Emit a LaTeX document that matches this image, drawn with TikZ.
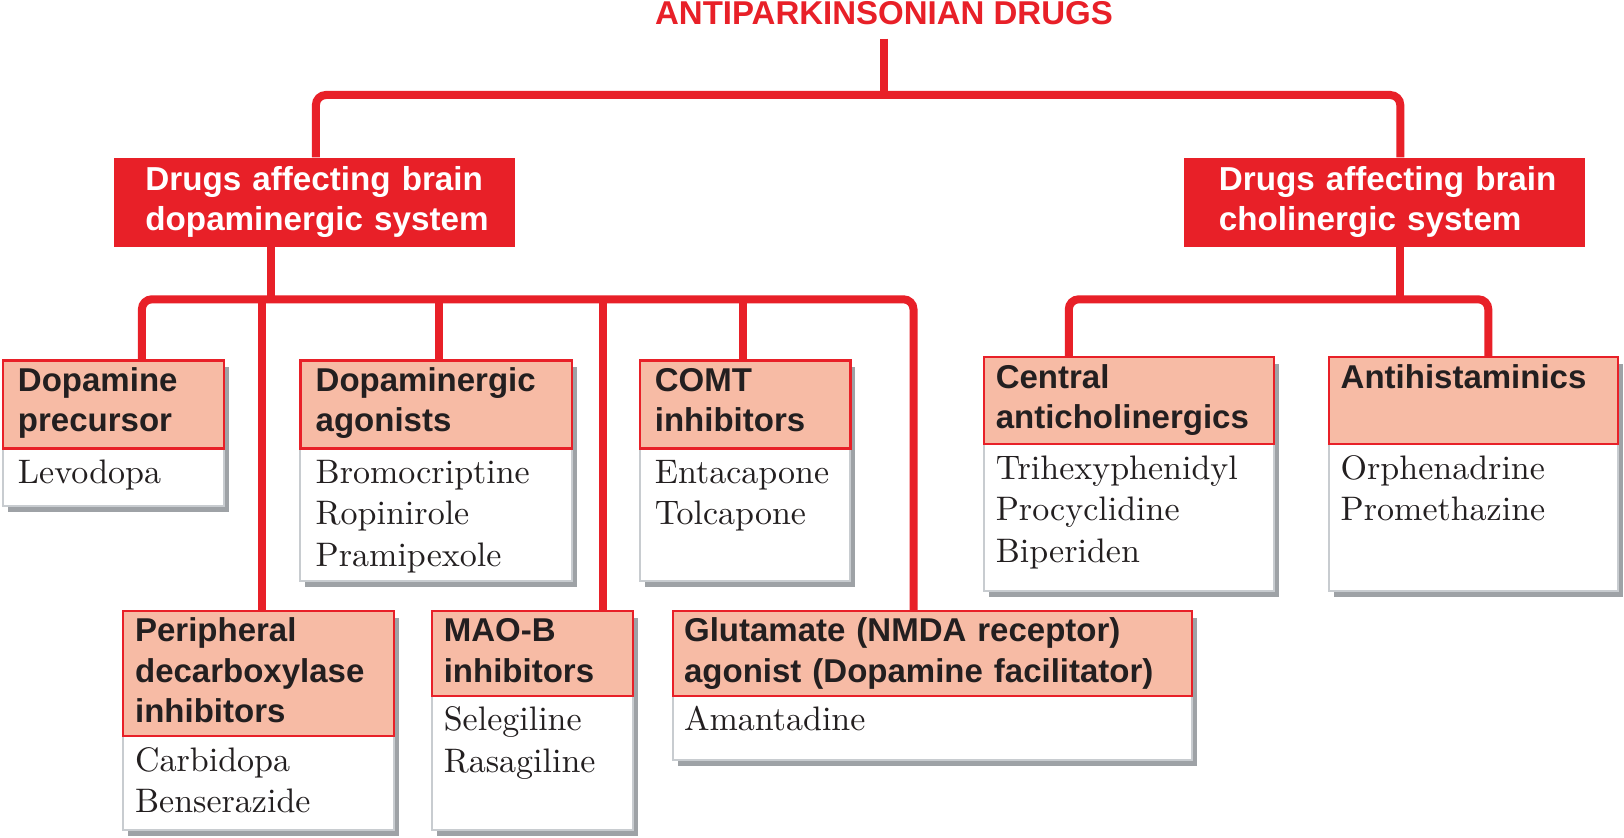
\documentclass[tikz,border=0pt]{standalone}
\usepackage{fontspec}
\newfontfamily\hsans{Liberation Sans}
\newfontfamily\bserif{lmroman10-regular.otf}
\definecolor{dred}{RGB}{232,32,40}
\definecolor{hfill}{RGB}{247,187,165}
\definecolor{shadowc}{RGB}{158,162,166}
\definecolor{bline}{RGB}{200,204,208}
\definecolor{htextc}{RGB}{35,31,32}
\tikzset{
 conn/.style={draw=dred, line width=4pt},
 hbox/.style={draw=dred, fill=hfill, line width=1.1pt, inner sep=0pt, anchor=north west},
 bbox/.style={draw=bline, fill=white, line width=1pt, inner sep=0pt, anchor=north west},
 rbox/.style={fill=dred, inner sep=0pt, anchor=north west},
 htext/.style={font=\hsans\bfseries\fontsize{16.5}{20.2}\selectfont, text=htextc, align=left, inner sep=0pt, anchor=base west},
 btext/.style={font=\bserif\fontsize{17}{20.7}\selectfont, text=htextc, align=left, inner sep=0pt, anchor=base west},
 wtext/.style={font=\hsans\bfseries\fontsize{16.6}{19.8}\selectfont, text=white, align=left, inner sep=0pt, anchor=base west, text width=190pt},
 ttext/.style={font=\hsans\bfseries\fontsize{16.5}{20}\selectfont, text=dred, inner sep=0pt, anchor=base},
}
% name, x1, x2, ytop, ydiv, ybot, header, body, inset
\newcommand\drugbox[9]{%
 \fill[shadowc] (#2+6,#4+8) rectangle (#3+6,#6+7);
 \node[bbox, minimum width={(#3-(#2))*0.5pt}, minimum height={(#6-(#5))*0.5pt}] (#1-b) at (#2,#5) {};
 \node[hbox, minimum width={(#3-(#2))*0.5pt}, minimum height={(#5-(#4))*0.5pt}] (#1-h) at (#2,#4) {};
 \node[htext, text width={(#3-(#2)-(#9)-2)*0.5pt}] (#1-ht) at (#2+#9,#4+32) {#7};
 \node[btext, text width={(#3-(#2)-(#9)-2)*0.5pt}] (#1-bt) at (#2+#9,#5+36) {#8};
}
\begin{document}
\begin{tikzpicture}[x=0.5pt,y=-0.5pt]
\useasboundingbox (0,0) rectangle (1624,838);
\fill[white] (0,0) rectangle (1624,838);

% title
\node[ttext] (title) at (884,25) {ANTIPARKINSONIAN DRUGS};

% top red boxes
\node[rbox, minimum width=200.4pt, minimum height=44.55pt] (dop) at (113.9,157.4) {};
\node[rbox, minimum width=200.4pt, minimum height=44.55pt] (chol) at (1183.8,157.4) {};
\node[wtext] (dop-t) at (145,190.5) {Drugs affecting brain\\dopaminergic system};
\node[wtext] (chol-t) at (1218.5,190.5) {Drugs affecting brain\\cholinergic system};

% attachment points
\coordinate (bus) at (884,95);
\coordinate (dopin) at (315.9,157.4);
\coordinate (cholin) at (1400.3,157.4);
\coordinate (lbus) at (271.4,299.3);
\coordinate (rbus) at (1400.3,299.3);
\coordinate (dpin) at (141.9,359.4);
\coordinate (pdin) at (262,610);
\coordinate (dain) at (439.1,359.4);
\coordinate (maoin) at (602.8,610);
\coordinate (comtin) at (742.6,359.4);
\coordinate (gluin) at (913.5,610);
\coordinate (cain) at (1068.8,356.3);
\coordinate (ahin) at (1488.3,356.3);

% connectors
\draw[conn] ([yshift=-6.5pt]title.south) -- (bus);
\draw[conn, rounded corners=5pt] (dopin) |- (bus) -| (cholin);
\draw[conn] (dop.south -| lbus) -- (lbus);
\draw[conn, rounded corners=5pt] (dpin) |- (lbus) -| (gluin);
\draw[conn] (pdin |- lbus) -- (pdin);
\draw[conn] (dain |- lbus) -- (dain);
\draw[conn] (maoin |- lbus) -- (maoin);
\draw[conn] (comtin |- lbus) -- (comtin);
\draw[conn] (chol.south -| rbus) -- (rbus);
\draw[conn, rounded corners=5pt] (cain) |- (rbus) -| (ahin);

% drug boxes
\drugbox{dp}{2.1}{222.7}{359.4}{447.4}{505.4}{Dopamine\\precursor}{Levodopa}{15.5}
\drugbox{da}{299.3}{570.7}{359.4}{447.4}{580}{Dopaminergic\\agonists}{Bromocriptine\\Ropinirole\\Pramipexole}{16}
\drugbox{comt}{639}{849.3}{359.4}{447.4}{580}{COMT\\inhibitors}{Entacapone\\Tolcapone}{15.5}
\drugbox{ca}{982.9}{1272.9}{356.3}{443.3}{590.3}{Central\\anticholinergics}{Trihexyphenidyl\\Procyclidine\\Biperiden}{12.5}
\drugbox{ah}{1327.8}{1616.7}{356.3}{443.3}{590.3}{Antihistaminics}{Orphenadrine\\Promethazine}{12.5}
\drugbox{pd}{122.2}{392.5}{610}{735.3}{828.6}{Peripheral\\decarboxylase\\inhibitors}{Carbidopa\\Benserazide}{12.5}
\drugbox{mao}{430.9}{631.8}{610}{695}{828.6}{MAO-B\\inhibitors}{Selegiline\\Rasagiline}{12.5}
\drugbox{glu}{672.2}{1191}{610}{695}{759.2}{Glutamate (NMDA receptor)\\agonist (Dopamine facilitator)}{Amantadine}{11.5}
\end{tikzpicture}
\end{document}
